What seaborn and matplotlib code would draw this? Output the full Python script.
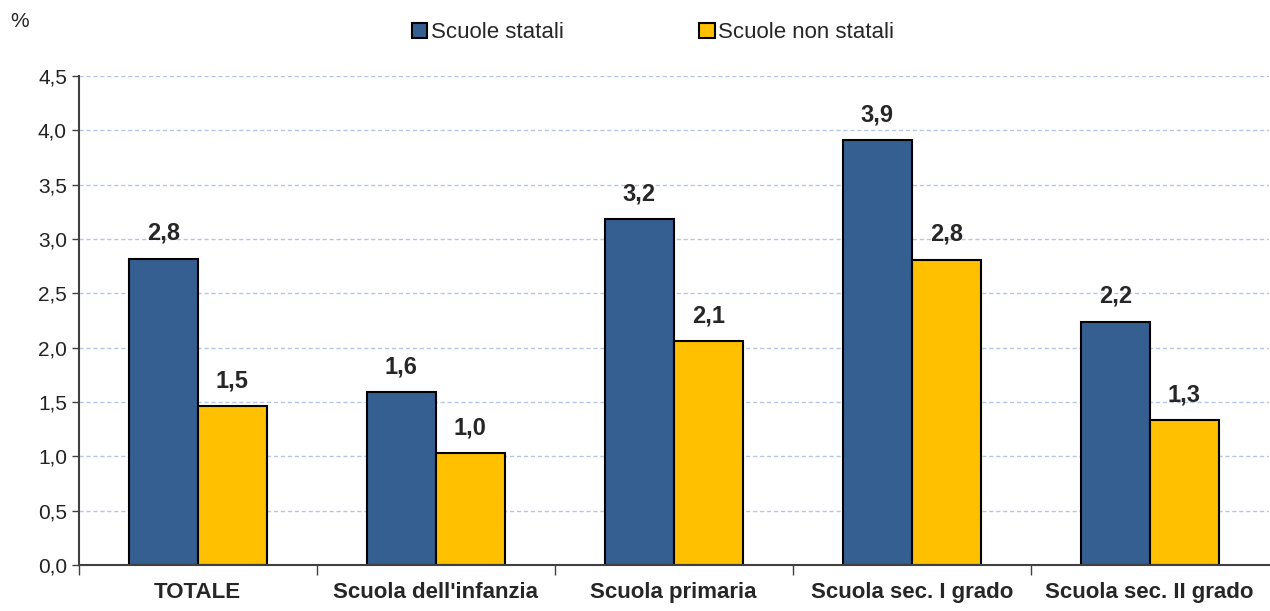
import pandas as pd
import seaborn as sns
import matplotlib.pyplot as plt
from matplotlib.ticker import FixedLocator, FuncFormatter

categories = ["TOTALE", "Scuola dell'infanzia", "Scuola primaria", "Scuola sec. I grado", "Scuola sec. II grado"]
statali = [2.82, 1.59, 3.18, 3.91, 2.24]
non_statali = [1.46, 1.03, 2.06, 2.81, 1.33]
series = ["Scuole statali", "Scuole non statali"]
colors = ["#365F91", "#FFC000"]

df = pd.DataFrame({
    "cat": categories * 2,
    "val": statali + non_statali,
    "serie": [series[0]] * len(categories) + [series[1]] * len(categories),
})

sns.set_style("white")
plt.rcParams['font.family'] = ['Liberation Sans Narrow', 'Liberation Sans', 'DejaVu Sans']

fig = plt.figure(figsize=(12.7, 6.11), dpi=100)
ax = fig.add_axes([0.062, 0.0753, 0.937, 0.8003])

sns.barplot(data=df, x="cat", y="val", hue="serie", palette=colors, width=0.58,
            gap=0, edgecolor="black", linewidth=1.5, ax=ax, legend=True, saturation=1)

#value labels
for cont in ax.containers:
    ax.bar_label(cont, labels=[f"{v:.1f}".replace(".", ",") for v in cont.datavalues],
                 padding=10, fontsize=17, fontweight="bold")

ax.set_ylim(0, 4.5)
ax.set_xlim(-0.5, 4.5)
ax.set_yticks([i * 0.5 for i in range(10)])
ax.yaxis.set_major_formatter(FuncFormatter(lambda v, p: f"{v:.1f}".replace(".", ",")))
ax.tick_params(axis="y", labelsize=15, length=5, width=1, color="#404040", left=True, labelcolor="#222222")
ax.tick_params(axis="x", which="major", length=0, labelsize=16, pad=12)
ax.xaxis.set_minor_locator(FixedLocator([-0.5, 0.5, 1.5, 2.5, 3.5]))
ax.tick_params(axis="x", which="minor", length=7, width=1, color="#404040", bottom=True)
for lbl in ax.get_xticklabels():
    lbl.set_fontweight("bold")

ax.grid(axis="y", linestyle=(0, (3, 2)), color="#B4C7E7", linewidth=1)
ax.set_axisbelow(True)
for s in ["top", "right"]:
    ax.spines[s].set_visible(False)
for s in ["left", "bottom"]:
    ax.spines[s].set_color("#404040")
    ax.spines[s].set_linewidth(1.5)

ax.set_xlabel("")
ax.set_ylabel("")

handles, labels = ax.get_legend_handles_labels()
ax.get_legend().remove()
leg = fig.legend(handles, labels, loc="center", bbox_to_anchor=(0.514, 0.946), ncol=2, frameon=False,
                 fontsize=16, handlelength=0.7, handleheight=0.7, handletextpad=0.15,
                 columnspacing=6.1)
for h in leg.legend_handles:
    h.set_edgecolor("black")
    h.set_linewidth(1.5)

fig.text(0.008, 0.955, "%", fontsize=15)

fig.savefig("out.png", dpi=100)
